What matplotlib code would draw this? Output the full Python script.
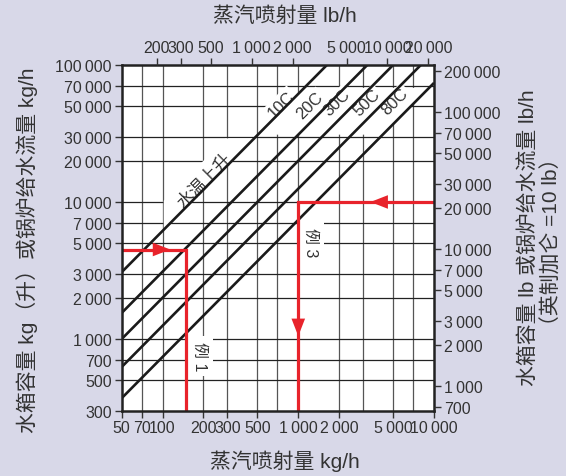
import numpy as np
import matplotlib
matplotlib.use('Agg')
import matplotlib.pyplot as plt
from matplotlib.patches import Polygon
from matplotlib.ticker import FixedLocator, FixedFormatter, NullLocator

plt.rcParams['font.family'] = ['Liberation Sans', 'Noto Sans CJK SC', 'DejaVu Sans']

LB_PER_KG = 2.2046

# water flow (kg) per kg/h of steam for each temperature rise
rise_labels = ['10C', '20C', '30C', '50C', '80C']
water_per_steam = [61.5, 31.0, 20.0, 12.5, 7.4]

steam_range = [50, 10000]
water_range = [300, 100000]

steam_ticks_kg = [50, 70, 100, 200, 300, 500, 1000, 2000, 5000, 10000]
steam_ticks_lb = [200, 300, 500, 1000, 2000, 5000, 10000, 20000]
water_ticks_kg = [300, 500, 700, 1000, 2000, 3000, 5000, 7000, 10000,
                  20000, 30000, 50000, 70000, 100000]
water_ticks_lb = [700, 1000, 2000, 3000, 5000, 7000, 10000, 20000,
                  30000, 50000, 70000, 100000, 200000]
grid_steam = [70, 100, 200, 300, 500, 700, 1000, 2000, 3000, 5000, 7000]
grid_water = [500, 700, 1000, 2000, 3000, 5000, 7000, 10000, 20000,
              30000, 50000, 70000]

# worked examples: (steam kg/h, water kg)
example1 = (150, 4500)
example3 = (1000, 10000)

BG = '#d8d8e8'
RED = '#e8232b'
INK = '#333333'


def fmt(v):
    return f'{v:,}'.replace(',', '\u2009')


fig = plt.figure(figsize=(5.66, 4.77), dpi=100, facecolor=BG)
ax = fig.add_axes([0.215, 0.137, 0.5518, 0.7247])
ax.set_facecolor('white')
ax.set_xscale('log')
ax.set_yscale('log')
ax.set_xlim(*steam_range)
ax.set_ylim(*water_range)

# grid
ax.vlines(grid_steam, *water_range, color='#555555', lw=0.9, zorder=1)
ax.hlines(grid_water, *steam_range, color='#222222', lw=0.9, zorder=1)

# cleared areas behind the labels
r10, r80 = water_per_steam[0], water_per_steam[-1]
band = Polygon([(102, 10200), (291, 29100), (29100 / r10, 29100), (102, 102 * r10)],
               closed=True, fc='white', ec='none', zorder=1.5)
ax.add_patch(band)
top = Polygon([(68000 / r10, 68000), (68000 / r80, 68000),
               (31000 / r80, 31000), (31000 / r10, 31000)],
              closed=True, fc='white', ec='none', zorder=1.5)
ax.add_patch(top)

# temperature-rise lines
xs = np.array(steam_range, dtype=float)
for r in water_per_steam:
    ax.plot(xs, r * xs, color='#1a1a1a', lw=1.9, solid_capstyle='butt', zorder=3)

label_pos = [(746, 52000), (1222, 51000), (1932, 53600), (3213, 53600), (5164, 54600)]
for lab, (px, py) in zip(rise_labels, label_pos):
    ax.text(px, py, lab, rotation=45, ha='center', va='center', fontsize=12,
            color=INK, zorder=2,
            bbox=dict(boxstyle='square,pad=0.1', fc='white', ec='none'))

ax.text(203, 14500, '水温上升', rotation=45, ha='center', va='center',
        fontsize=12.5, color=INK, zorder=2)

# example 1: tank capacity -> steam rate
s1, w1 = example1
ax.plot([steam_range[0], s1, s1], [w1, w1, water_range[0]], color=RED, lw=2.3,
        solid_joinstyle='miter', zorder=4)
# example 3: feed-water flow -> steam rate
s3, w3 = example3
ax.plot([steam_range[1], s3, s3], [w3, w3, water_range[0]], color=RED, lw=2.3,
        solid_joinstyle='miter', zorder=4)

head = dict(arrowstyle='-|>,head_length=0.9,head_width=0.35', color=RED, lw=0,
            shrinkA=0, shrinkB=0, mutation_scale=14)
ax.annotate('', xy=(114, w1), xytext=(100, w1), arrowprops=head, zorder=5)
ax.annotate('', xy=(3400, w3), xytext=(4000, w3), arrowprops=head, zorder=5)
ax.annotate('', xy=(s3, 1050), xytext=(s3, 1300), arrowprops=head, zorder=5)

ax.text(189, 752, '例 1', rotation=-90, ha='center', va='center', fontsize=11.5,
        color=INK, zorder=2,
        bbox=dict(boxstyle='square,pad=0.35', fc='white', ec='none'))
ax.text(1242, 5100, '例 3', rotation=-90, ha='center', va='center', fontsize=11.5,
        color=INK, zorder=2,
        bbox=dict(boxstyle='square,pad=0.35', fc='white', ec='none'))

# secondary scales in lb
ax_top = ax.twiny()
ax_top.set_xscale('log')
ax_top.set_xlim(steam_range[0] * LB_PER_KG, steam_range[1] * LB_PER_KG)
ax_right = ax.twinx()
ax_right.set_yscale('log')
ax_right.set_ylim(water_range[0] * LB_PER_KG, water_range[1] * LB_PER_KG)

for a in (ax_top, ax_right):
    for sp in a.spines.values():
        sp.set_visible(False)

ax.xaxis.set_major_locator(FixedLocator(steam_ticks_kg))
ax.xaxis.set_major_formatter(FixedFormatter([fmt(v) for v in steam_ticks_kg]))
ax.yaxis.set_major_locator(FixedLocator(water_ticks_kg))
ax.yaxis.set_major_formatter(FixedFormatter([fmt(v) for v in water_ticks_kg]))
ax_top.xaxis.set_major_locator(FixedLocator(steam_ticks_lb))
ax_top.xaxis.set_major_formatter(FixedFormatter([fmt(v) for v in steam_ticks_lb]))
ax_right.yaxis.set_major_locator(FixedLocator(water_ticks_lb))
ax_right.yaxis.set_major_formatter(FixedFormatter([fmt(v) for v in water_ticks_lb]))

for a in (ax, ax_top, ax_right):
    a.xaxis.set_minor_locator(NullLocator())
    a.yaxis.set_minor_locator(NullLocator())
    a.tick_params(which='major', direction='out', length=5, width=1,
                  color=INK, labelcolor=INK, labelsize=11.5, pad=2)

for sp in ax.spines.values():
    sp.set_linewidth(1.8)
    sp.set_color('#222222')
    sp.set_zorder(6)

fig.text(0.5035, 0.967, '蒸汽喷射量 lb/h', ha='center', va='center', fontsize=15, color=INK)
fig.text(0.5035, 0.034, '蒸汽喷射量 kg/h', ha='center', va='center', fontsize=15, color=INK)
fig.text(0.048, 0.475, '水箱容量 kg（升）或锅炉给水流量 kg/h', rotation=90,
         ha='center', va='center', fontsize=15, color=INK)
fig.text(0.934, 0.501, '水箱容量 lb 或锅炉给水流量 lb/h', rotation=90,
         ha='center', va='center', fontsize=15, color=INK)
fig.text(0.975, 0.493, '（英制加仑 =10 lb）', rotation=90,
         ha='center', va='center', fontsize=15, color=INK)

fig.savefig('out.png', dpi=100, facecolor=BG)
